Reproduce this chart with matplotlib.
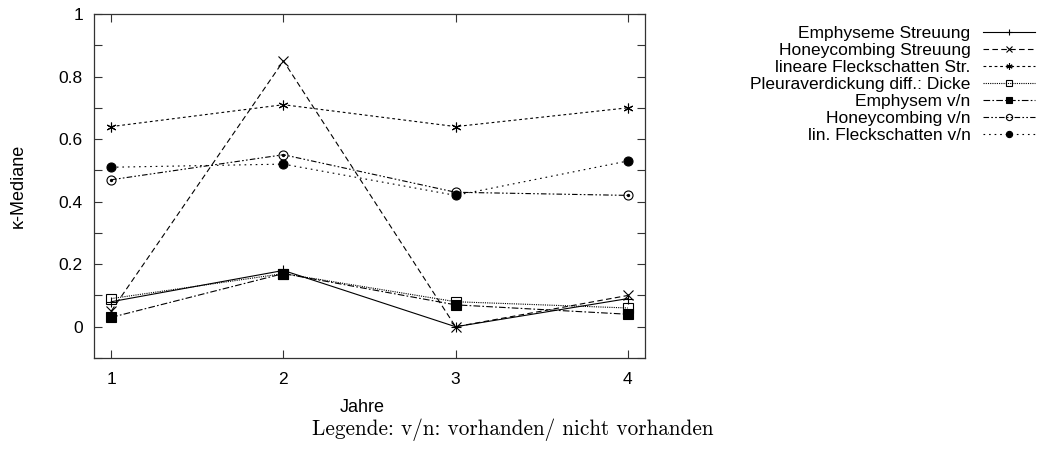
import matplotlib
matplotlib.use("Agg")
import matplotlib.pyplot as plt
from matplotlib.ticker import MultipleLocator, FixedLocator

# Data
years = [1, 2, 3, 4]
series_names = [
    "Emphyseme Streuung",
    "Honeycombing Streuung",
    "lineare Fleckschatten Str.",
    "Pleuraverdickung diff.: Dicke",
    "Emphysem v/n",
    "Honeycombing v/n",
    "lin. Fleckschatten v/n",
]
emphyseme_streuung = [0.08, 0.18, 0.00, 0.09]
honeycombing_streuung = [0.05, 0.85, 0.00, 0.10]
lin_fleckschatten_str = [0.64, 0.71, 0.64, 0.70]
pleuraverdickung_dicke = [0.09, 0.17, 0.08, 0.06]
emphysem_vn = [0.03, 0.17, 0.07, 0.04]
honeycombing_vn = [0.47, 0.55, 0.43, 0.42]
lin_fleckschatten_vn = [0.51, 0.52, 0.42, 0.53]
values = [emphyseme_streuung, honeycombing_streuung, lin_fleckschatten_str,
          pleuraverdickung_dicke, emphysem_vn, honeycombing_vn, lin_fleckschatten_vn]

y_ticks = [0, 0.2, 0.4, 0.6, 0.8, 1]
y_labels = ["0", "0.2", "0.4", "0.6", "0.8", "1"]

plt.rcParams["font.family"] = ["Liberation Sans", "DejaVu Sans"]

styles = [
    dict(linestyle="-", marker="+", ms=7, mfc="black"),
    dict(linestyle=(0, (5, 3)), marker="x", ms=6.5, mfc="black"),
    dict(linestyle=(0, (2.5, 2.5)), marker=(6, 2, 0), ms=7, mfc="black"),
    dict(linestyle=(0, (1, 1)), marker="s", ms=6.5, mfc="none"),
    dict(linestyle=(0, (6, 2, 1.5, 2)), marker="s", ms=6.5, mfc="black"),
    dict(linestyle=(0, (5, 2, 1.5, 2, 1.5, 2)), marker="o", ms=6.5, mfc="none"),
    dict(linestyle=(0, (1.5, 3.5)), marker="o", ms=6.5, mfc="black"),
]

fig = plt.figure(figsize=(10.39, 4.5), dpi=100)
ax = fig.add_axes([0.0905, 0.2044, 0.5303, 0.7645])

handles = []
for name, vals, st in zip(series_names, values, styles):
    h, = ax.plot(years, vals, color="black", lw=0.8, mec="black", mew=0.8,
                 label=name, **st)
    handles.append(h)

# inner dot for the open circle markers
ax.plot(years, honeycombing_vn, linestyle="none", marker="o", ms=1.4,
        color="black")

ax.set_xlim(0.9, 4.1)
ax.set_ylim(-0.1, 1.0)
ax.xaxis.set_major_locator(FixedLocator(years))
ax.yaxis.set_major_locator(FixedLocator(y_ticks))
ax.set_yticklabels(y_labels)
ax.yaxis.set_minor_locator(MultipleLocator(0.1))
ax.tick_params(which="both", direction="in", top=True, right=True,
               length=6, width=0.8, color="#333333", labelsize=12.5, pad=8)
ax.tick_params(axis="x", pad=10)
for sp in ax.spines.values():
    sp.set_linewidth(0.9)
    sp.set_color("#333333")

fig.text(362 / 1039, 1 - 408 / 450, "Jahre", ha="center", va="center",
         fontsize=13)
fig.text(18 / 1039, 1 - 186 / 450, "\u03ba-Mediane", ha="center", va="center",
         rotation=90, fontsize=13)

leg = fig.legend(handles=handles, loc="upper right",
                 bbox_to_anchor=(1035 / 1039, 1 - 26 / 450),
                 frameon=False, markerfirst=False, handlelength=3.0,
                 handletextpad=0.72, labelspacing=0.105, fontsize=12.5,
                 borderaxespad=0.0, borderpad=0.0)
for ln in leg.get_lines():
    ln.set_markersize(4.5)

fig.text(513 / 1039, 1 - 430 / 450, "Legende: v/n: vorhanden/ nicht vorhanden",
         ha="center", va="center", fontsize=15.3, family=["cmr10", "DejaVu Serif"])

fig.savefig("out.png", dpi=100)
